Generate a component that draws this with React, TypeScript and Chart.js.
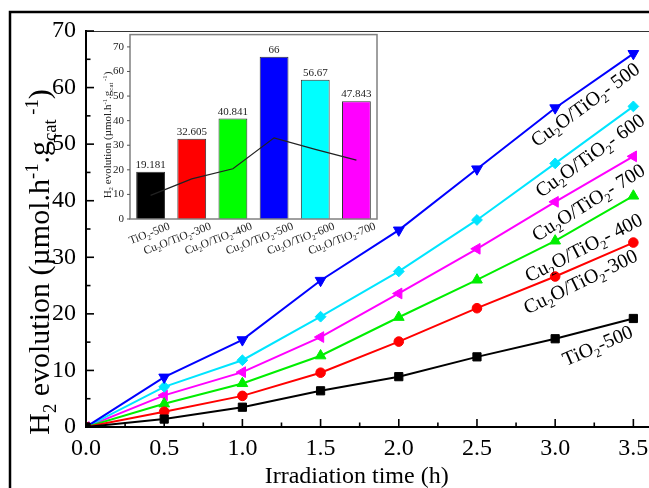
import React, { useEffect, useRef } from 'react';
import { Chart, registerables } from 'chart.js';

Chart.register(...registerables);

const FONT = "'Liberation Serif', 'Times New Roman', serif";

// ---------- main chart data ----------
const times = [0, 0.5, 1.0, 1.5, 2.0, 2.5, 3.0, 3.5];
const tio2_500 = [0, 1.4, 3.5, 6.4, 8.9, 12.4, 15.6, 19.181];
const cu_300 = [0, 2.7, 5.5, 9.6, 15.1, 21.0, 26.6, 32.605];
const cu_400 = [0, 4.1, 7.7, 12.6, 19.4, 26.0, 32.9, 40.841];
const cu_500 = [0, 8.8, 15.4, 25.9, 34.8, 45.6, 56.4, 66];
const cu_600 = [0, 7.1, 11.8, 19.5, 27.5, 36.6, 46.6, 56.67];
const cu_700 = [0, 5.6, 9.7, 15.9, 23.6, 31.5, 39.8, 47.843];

const seriesValues = [tio2_500, cu_300, cu_400, cu_500, cu_600, cu_700];
const seriesNames = ['TiO2-500', 'Cu2O/TiO2-300', 'Cu2O/TiO2-400', 'Cu2O/TiO2-500', 'Cu2O/TiO2-600', 'Cu2O/TiO2-700'];
const seriesRich = ['TiO_{2}-500', 'Cu_{2}O/TiO_{2}-300', 'Cu_{2}O/TiO_{2}- 400', 'Cu_{2}O/TiO_{2}- 500', 'Cu_{2}O/TiO_{2}- 600', 'Cu_{2}O/TiO_{2}- 700'];
const seriesColors = ['#000000', '#ff0000', '#00ee00', '#0000ff', '#00e5ff', '#ff00ff'];
const seriesMarkers = ['rect', 'circle', 'triangle', 'triangle', 'rectRot', 'triangle'];
const seriesMarkerRot = [0, 0, 0, 180, 0, 270];
const seriesMarkerSize = [5.8, 4.8, 6.2, 6.2, 5.4, 6.2];
// label anchor (data units) and angle (deg)
const labelAtX = [3.27, 3.16, 3.18, 3.19, 3.22, 3.21];
const labelAtY = [14.5, 25.8, 31.8, 57.1, 48.1, 39.8];
const labelAngle = [23.5, 26, 27, 36, 35.5, 32];

const xTicks = [0, 0.5, 1.0, 1.5, 2.0, 2.5, 3.0, 3.5];
const yTicks = [0, 10, 20, 30, 40, 50, 60, 70];
const xTitle = 'Irradiation time (h)';
const yTitle = 'H_{2} evolution (\u00b5mol.h^{-1}.g_{cat}^{ -1})';

// ---------- inset data ----------
const insetCategories = ['TiO_{2}-500', 'Cu_{2}O/TiO_{2}-300', 'Cu_{2}O/TiO_{2}-400', 'Cu_{2}O/TiO_{2}-500', 'Cu_{2}O/TiO_{2}-600', 'Cu_{2}O/TiO_{2}-700'];
const insetRates = [19.181, 32.605, 40.841, 66, 56.67, 47.843];
const insetRateLabels = ['19.181', '32.605', '40.841', '66', '56.67', '47.843'];
const insetLine = [9.59, 16.3, 20.42, 33, 28.34, 23.92];
const insetColors = ['#000000', '#ff0000', '#00ff00', '#0000ff', '#00ffff', '#ff00ff'];
const insetYTicks = [0, 10, 20, 30, 40, 50, 60, 70];

// ---------- rich text helpers ----------
type Seg = { t: string; k: number };
function parseRich(s: string): Seg[] {
  const out: Seg[] = [];
  let i = 0;
  let buf = '';
  while (i < s.length) {
    const c = s[i];
    if ((c === '_' || c === '^') && s[i + 1] === '{') {
      if (buf) { out.push({ t: buf, k: 0 }); buf = ''; }
      const end = s.indexOf('}', i + 2);
      out.push({ t: s.slice(i + 2, end), k: c === '_' ? 1 : 2 });
      i = end + 1;
    } else { buf += c; i++; }
  }
  if (buf) out.push({ t: buf, k: 0 });
  return out;
}
function richWidth(ctx: CanvasRenderingContext2D, s: string, size: number) {
  let w = 0;
  for (const seg of parseRich(s)) {
    ctx.font = `${seg.k ? size * 0.62 : size}px ${FONT}`;
    w += ctx.measureText(seg.t).width;
  }
  return w;
}
function drawRich(ctx: CanvasRenderingContext2D, s: string, x: number, y: number, size: number, align: string, color: string) {
  const w = richWidth(ctx, s, size);
  let cx = align === 'left' ? x : align === 'center' ? x - w / 2 : x - w;
  ctx.save();
  ctx.fillStyle = color;
  ctx.textAlign = 'left';
  ctx.textBaseline = 'alphabetic';
  for (const seg of parseRich(s)) {
    const sz = seg.k ? size * 0.62 : size;
    ctx.font = `${sz}px ${FONT}`;
    const dy = seg.k === 1 ? size * 0.22 : seg.k === 2 ? -size * 0.38 : 0;
    ctx.fillText(seg.t, cx, y + dy);
    cx += ctx.measureText(seg.t).width;
  }
  ctx.restore();
}
function seg(ctx: CanvasRenderingContext2D, x1: number, y1: number, x2: number, y2: number) {
  ctx.beginPath();
  ctx.moveTo(x1, y1);
  ctx.lineTo(x2, y2);
  ctx.stroke();
}

const mainDecor = {
  id: 'mainDecor',
  beforeDraw(chart: any) {
    const ctx = chart.ctx as CanvasRenderingContext2D;
    ctx.save();
    ctx.strokeStyle = '#000';
    ctx.lineWidth = 2.5;
    ctx.strokeRect(10, 12, chart.width + 40, chart.height + 40);
    ctx.restore();
  },
  afterDraw(chart: any) {
    const ctx = chart.ctx as CanvasRenderingContext2D;
    const ca = chart.chartArea;
    const xs = chart.scales.x;
    const ys = chart.scales.y;
    ctx.save();
    ctx.strokeStyle = '#333';
    ctx.lineWidth = 1.2;
    seg(ctx, ca.left, ca.top + 0.5, chart.width, ca.top + 0.5);
    ctx.strokeStyle = '#000';
    ctx.lineWidth = 1.6;
    for (let i = 0; i < xTicks.length; i++) {
      const px = xs.getPixelForValue(xTicks[i]);
      seg(ctx, px, ca.bottom, px, ca.bottom - 8);
      if (i < xTicks.length - 1) {
        const mx = xs.getPixelForValue((xTicks[i] + xTicks[i + 1]) / 2);
        seg(ctx, mx, ca.bottom, mx, ca.bottom - 4.5);
      }
    }
    for (let i = 0; i < yTicks.length; i++) {
      const py = ys.getPixelForValue(yTicks[i]);
      seg(ctx, ca.left, py, ca.left + 8, py);
      if (i < yTicks.length - 1) {
        const my = ys.getPixelForValue((yTicks[i] + yTicks[i + 1]) / 2);
        seg(ctx, ca.left, my, ca.left + 4.5, my);
      }
    }
    // series labels
    for (let i = 0; i < seriesRich.length; i++) {
      const px = xs.getPixelForValue(labelAtX[i]);
      const py = ys.getPixelForValue(labelAtY[i]);
      ctx.save();
      ctx.translate(px, py);
      ctx.rotate(-labelAngle[i] * Math.PI / 180);
      drawRich(ctx, seriesRich[i], 0, 7, 20, 'center', '#000');
      ctx.restore();
    }
    // x title
    const cx = (xs.getPixelForValue(xTicks[0]) + xs.getPixelForValue(xTicks[xTicks.length - 1])) / 2;
    drawRich(ctx, xTitle, cx - 3, 483, 24, 'center', '#000');
    // y title
    ctx.save();
    ctx.translate(49, 262);
    ctx.rotate(-Math.PI / 2);
    drawRich(ctx, yTitle, 0, 0, 30, 'center', '#000');
    ctx.restore();
    ctx.restore();
  },
};

const insetDecor = {
  id: 'insetDecor',
  afterDraw(chart: any) {
    const ctx = chart.ctx as CanvasRenderingContext2D;
    const ca = chart.chartArea;
    const ys = chart.scales.y;
    ctx.save();
    ctx.strokeStyle = '#808080';
    ctx.lineWidth = 1.5;
    ctx.strokeRect(ca.left, ca.top, ca.right - ca.left, ca.bottom - ca.top);
    ctx.strokeStyle = '#555';
    ctx.lineWidth = 1;
    for (const v of insetYTicks) {
      const py = ys.getPixelForValue(v);
      seg(ctx, ca.left - 3, py, ca.left, py);
    }
    const meta = chart.getDatasetMeta(0);
    meta.data.forEach((bar: any, i: number) => {
      ctx.font = `11px ${FONT}`;
      ctx.fillStyle = '#222';
      ctx.textAlign = 'center';
      ctx.textBaseline = 'alphabetic';
      ctx.fillText(insetRateLabels[i], bar.x, bar.y - 4);
      ctx.save();
      ctx.translate(bar.x + 20, ca.bottom + 10);
      ctx.rotate(-21 * Math.PI / 180);
      drawRich(ctx, insetCategories[i], 0, 0, 11.5, 'right', '#222');
      ctx.restore();
    });
    ctx.save();
    ctx.translate(21, 113);
    ctx.rotate(-Math.PI / 2);
    drawRich(ctx, yTitle, 0, 0, 11, 'center', '#222');
    ctx.restore();
    ctx.restore();
  },
};

export default function App() {
  const mainRef = useRef<HTMLCanvasElement>(null);
  const insetRef = useRef<HTMLCanvasElement>(null);

  useEffect(() => {
    document.body.style.margin = '0';
    const main = new Chart(mainRef.current as HTMLCanvasElement, {
      type: 'line',
      data: {
        datasets: seriesValues.map((vals, i) => ({
          label: seriesNames[i],
          data: times.map((t, j) => ({ x: t, y: vals[j] })),
          borderColor: seriesColors[i],
          backgroundColor: seriesColors[i],
          borderWidth: 2,
          pointStyle: seriesMarkers[i] as any,
          pointRotation: seriesMarkerRot[i],
          pointRadius: seriesMarkerSize[i],
          pointBorderWidth: 1,
          tension: 0,
        })),
      },
      options: {
        animation: false,
        responsive: false,
        events: [],
        layout: { autoPadding: false, padding: { top: 31, right: 0, left: 0, bottom: 0 } },
        plugins: { legend: { display: false }, tooltip: { enabled: false } },
        scales: {
          x: {
            type: 'linear',
            min: 0,
            max: 3.6,
            afterFit: (s: any) => { s.height = 61; s.paddingRight = 0; s.paddingLeft = 0; },
            grid: { display: false, drawTicks: false },
            border: { display: true, color: '#000', width: 2 },
            ticks: {
              stepSize: 0.5,
              includeBounds: false,
              padding: 7,
              color: '#000',
              maxRotation: 0,
              font: { family: FONT, size: 24 },
              callback: (v: any) => Number(v).toFixed(1),
            },
          },
          y: {
            type: 'linear',
            min: 0,
            max: 70,
            afterFit: (s: any) => { s.width = 86; s.paddingTop = 0; s.paddingBottom = 0; },
            grid: { display: false, drawTicks: false },
            border: { display: true, color: '#000', width: 2 },
            ticks: {
              stepSize: 10,
              padding: 10,
              color: '#000',
              font: { family: FONT, size: 24 },
            },
          },
        },
      },
      plugins: [mainDecor],
    } as any);

    const inset = new Chart(insetRef.current as HTMLCanvasElement, {
      type: 'bar',
      data: {
        labels: insetCategories,
        datasets: [
          {
            type: 'bar',
            data: insetRates,
            backgroundColor: insetColors,
            borderColor: '#333',
            borderWidth: 1,
            barPercentage: 0.7,
            categoryPercentage: 1,
            order: 1,
          },
          {
            type: 'line',
            data: insetLine,
            borderColor: '#222',
            borderWidth: 1.2,
            pointRadius: 0,
            tension: 0,
            order: 0,
          },
        ],
      },
      options: {
        animation: false,
        responsive: false,
        events: [],
        layout: { autoPadding: false, padding: { top: 11, right: 13, left: 0, bottom: 0 } },
        plugins: { legend: { display: false }, tooltip: { enabled: false } },
        scales: {
          x: {
            afterFit: (s: any) => { s.height = 43; },
            grid: { display: false, drawTicks: false },
            border: { display: false },
            ticks: { display: false },
          },
          y: {
            min: 0,
            max: 75,
            afterFit: (s: any) => { s.width = 40; },
            grid: { display: false, drawTicks: false },
            border: { display: false },
            ticks: {
              stepSize: 10,
              includeBounds: false,
              padding: 6,
              color: '#222',
              font: { family: FONT, size: 11 },
            },
          },
        },
      },
      plugins: [insetDecor],
    } as any);

    return () => {
      main.destroy();
      inset.destroy();
    };
  }, []);

  return (
    <div style={{ position: 'relative', width: 649, height: 488, overflow: 'hidden', background: '#fff' }}>
      <canvas ref={mainRef} width={649} height={488} style={{ position: 'absolute', left: 0, top: 0, width: 649, height: 488 }} />
      <canvas ref={insetRef} width={300} height={240} style={{ position: 'absolute', left: 90, top: 22, width: 300, height: 240 }} />
    </div>
  );
}
